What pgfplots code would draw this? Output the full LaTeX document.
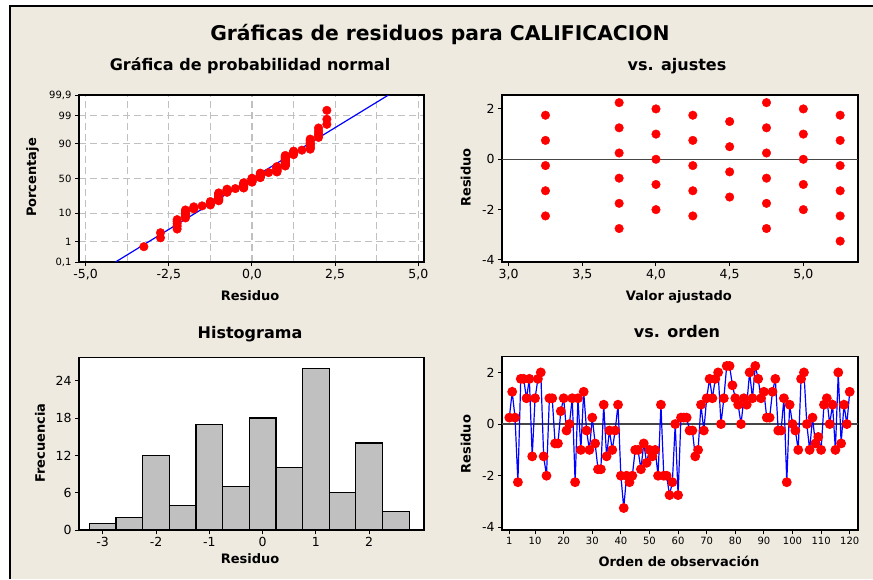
\documentclass[border=0pt]{standalone}
\usepackage{pgfplots}
\pgfplotsset{compat=1.18}
\usepackage{pgfplotstable}
\usepackage{fontspec}
\setmainfont{DejaVu Sans}
\newcommand{\fs}[1]{\fontsize{#1}{#1}\selectfont}
\definecolor{beige}{RGB}{238,234,224}
\definecolor{gridc}{RGB}{192,192,192}
\definecolor{barc}{RGB}{192,192,192}
\definecolor{refc}{RGB}{70,70,70}

\pgfplotstableread{
x z
-3.25 -2.523
-2.75 -2.194
-2.75 -2.006
-2.25 -1.870
-2.25 -1.762
-2.25 -1.671
-2.25 -1.592
-2.25 -1.522
-2.0 -1.459
-2.0 -1.401
-2.0 -1.348
-2.0 -1.298
-2.0 -1.251
-2.0 -1.207
-2.0 -1.165
-1.75 -1.125
-1.75 -1.086
-1.75 -1.049
-1.5 -1.014
-1.25 -0.980
-1.25 -0.947
-1.25 -0.915
-1.25 -0.883
-1.25 -0.853
-1.0 -0.823
-1.0 -0.795
-1.0 -0.766
-1.0 -0.739
-1.0 -0.712
-1.0 -0.685
-1.0 -0.659
-1.0 -0.633
-1.0 -0.608
-1.0 -0.583
-1.0 -0.559
-1.0 -0.534
-0.75 -0.511
-0.75 -0.487
-0.75 -0.464
-0.75 -0.441
-0.75 -0.418
-0.75 -0.395
-0.5 -0.373
-0.25 -0.351
-0.25 -0.329
-0.25 -0.307
-0.25 -0.285
-0.25 -0.263
-0.25 -0.242
-0.25 -0.220
-0.25 -0.199
-0.25 -0.178
-0.25 -0.157
0.0 -0.136
0.0 -0.115
0.0 -0.094
0.0 -0.073
0.0 -0.052
0.0 -0.031
0.0 -0.010
0.0 0.010
0.25 0.031
0.25 0.052
0.25 0.073
0.25 0.094
0.25 0.115
0.25 0.136
0.25 0.157
0.25 0.178
0.25 0.199
0.5 0.220
0.75 0.242
0.75 0.263
0.75 0.285
0.75 0.307
0.75 0.329
0.75 0.351
0.75 0.373
0.75 0.395
0.75 0.418
0.75 0.441
1.0 0.464
1.0 0.487
1.0 0.511
1.0 0.534
1.0 0.559
1.0 0.583
1.0 0.608
1.0 0.633
1.0 0.659
1.0 0.685
1.0 0.712
1.0 0.739
1.0 0.766
1.0 0.795
1.0 0.823
1.0 0.853
1.25 0.883
1.25 0.915
1.25 0.947
1.25 0.980
1.25 1.014
1.5 1.049
1.75 1.086
1.75 1.125
1.75 1.165
1.75 1.207
1.75 1.251
1.75 1.298
1.75 1.348
1.75 1.401
1.75 1.459
2.0 1.522
2.0 1.592
2.0 1.671
2.0 1.762
2.0 1.870
2.25 2.006
2.25 2.194
2.25 2.523
}\probdata

\pgfplotstableread{
f r
3.25 1.75
3.25 0.75
3.25 -0.25
3.25 -1.25
3.25 -2.25
3.75 2.25
3.75 1.25
3.75 0.25
3.75 -0.75
3.75 -1.75
3.75 -2.75
4.0 2.0
4.0 1.0
4.0 0.0
4.0 -1.0
4.0 -2.0
4.25 1.75
4.25 0.75
4.25 -0.25
4.25 -1.25
4.25 -2.25
4.5 1.5
4.5 0.5
4.5 -0.5
4.5 -1.5
4.75 2.25
4.75 1.25
4.75 0.25
4.75 -0.75
4.75 -1.75
4.75 -2.75
5.0 2.0
5.0 1.0
5.0 0.0
5.0 -1.0
5.0 -2.0
5.25 1.75
5.25 0.75
5.25 -0.25
5.25 -1.25
5.25 -2.25
5.25 -3.25
}\fitdata

\pgfplotstableread{
i r
1 0.25
2 1.25
3 0.25
4 -2.25
5 1.75
6 1.75
7 1.0
8 1.75
9 -1.25
10 1.0
11 1.75
12 2.0
13 -1.25
14 -2.0
15 1.0
16 1.0
17 -0.75
18 -0.75
19 0.5
20 1.0
21 -0.25
22 0.0
23 1.0
24 -2.25
25 1.0
26 -1.0
27 1.25
28 -0.25
29 -1.0
30 0.25
31 -0.75
32 -1.75
33 -1.75
34 0.75
35 -1.25
36 -0.25
37 -1.0
38 -0.25
39 0.75
40 -2.0
41 -3.25
42 -2.0
43 -2.25
44 -2.0
45 -1.0
46 -1.0
47 -1.75
48 -0.75
49 -1.5
50 -1.0
51 -1.25
52 -1.0
53 -2.0
54 0.75
55 -2.0
56 -2.0
57 -2.75
58 -2.25
59 0.0
60 -2.75
61 0.25
62 0.25
63 0.25
64 -0.25
65 -0.25
66 -1.25
67 -1.0
68 0.75
69 -0.25
70 1.0
71 1.75
72 1.0
73 1.75
74 2.0
75 0.0
76 1.0
77 2.25
78 2.25
79 1.5
80 1.0
81 0.75
82 0.0
83 1.0
84 0.75
85 2.0
86 1.0
87 2.25
88 1.75
89 1.0
90 1.25
91 0.25
92 0.25
93 1.25
94 1.75
95 -0.25
96 -0.25
97 1.0
98 -2.25
99 0.75
100 0.0
101 -0.25
102 -1.0
103 1.75
104 2.0
105 0.0
106 -1.0
107 0.25
108 -0.75
109 -0.5
110 -1.0
111 0.75
112 1.0
113 0.0
114 0.75
115 -1.0
116 2.0
117 -0.75
118 0.75
119 0.0
120 1.25
}\orddata

\pgfplotsset{
  minitab/.style={
    scale only axis,
    anchor=south west,
    axis background/.style={fill=white},
    axis line style={line width=1.2pt, black},
    tick align=outside,
    tick pos=left,
    major tick length=4pt,
    every tick/.style={black, line width=1pt},
    tick label style={font=\fs{12.5}},
    label style={font=\bfseries\fs{13}},
    title style={font=\bfseries\fs{16}, anchor=base},
    /pgf/number format/assume math mode=true,
  },
  redpts/.style={only marks, mark=*, mark size=4.3pt, mark options={draw=red, fill=red}},
}

\begin{document}
\begin{tikzpicture}
\fill[white] (0pt,0pt) rectangle (873pt,-579pt);
\fill[beige] (10pt,-6pt) rectangle (873pt,-579pt);
\draw[black, line width=1.3pt] (10pt,-579pt) -- (10pt,-6pt) -- (873pt,-6pt);

\node[anchor=base, font=\bfseries\fs{20.3}] at (440pt,-40pt) {Gráficas de residuos para CALIFICACION};

% Normal probability plot
\begin{axis}[minitab,
  at={(79pt,-262pt)}, width=345pt, height=167pt,
  xmin=-5.2, xmax=5.17, ymin=-3.0902, ymax=3.0902,
  xtick={-5,-2.5,0,2.5,5}, xticklabels={{-5,0},{-2,5},{0,0},{2,5},{5,0}},
  minor xtick={-3.75,-1.25,1.25,3.75}, minor tick length=0pt,
  ytick={-3.0902,-2.3263,-1.2816,0,1.2816,2.3263,3.0902},
  yticklabels={{0,1},1,10,50,90,99,{99,9}},
  y tick label style={font=\fs{10}},
  grid=both,
  major grid style={gridc, line width=1.2pt, dash pattern=on 7pt off 4pt},
  minor grid style={gridc, line width=1.2pt, dash pattern=on 7pt off 4pt},
  title={Gráfica de probabilidad normal},
  title style={at={(axis description cs:0.4957,1.1138)}},
  xlabel={Residuo},
  xlabel style={at={(axis description cs:0.4957,-0.2305)}, anchor=base},
  ylabel={Porcentaje},
  ylabel style={at={(axis description cs:-0.1246,0.506)}, anchor=base},
]
\addplot[blue, line width=1.2pt] coordinates {(-4.1026,-3.0902) (4.1026,3.0902)};
\addplot[redpts] table[x=x, y=z] {\probdata};
\end{axis}

% vs fits
\begin{axis}[minitab,
  at={(502pt,-262pt)}, width=356pt, height=167pt,
  xmin=2.955, xmax=5.371, ymin=-4.08, ymax=2.553,
  xtick={3,3.5,4,4.5,5}, xticklabels={{3,0},{3,5},{4,0},{4,5},{5,0}},
  ytick={-4,-2,0,2}, yticklabels={-4,-2,0,2},
  title={vs. ajustes},
  title style={at={(axis description cs:0.4916,1.1138)}},
  xlabel={Valor ajustado},
  xlabel style={at={(axis description cs:0.497,-0.2305)}, anchor=base},
  ylabel={Residuo},
  ylabel style={at={(axis description cs:-0.0879,0.506)}, anchor=base},
]
\addplot[refc, line width=1.2pt] coordinates {(2.955,0) (5.371,0)};
\addplot[redpts] table[x=f, y=r] {\fitdata};
\end{axis}

% Histogram
\begin{axis}[minitab,
  at={(79pt,-530pt)}, width=345pt, height=172.3pt,
  xmin=-3.445, xmax=3.028, ymin=0, ymax=27.7,
  xtick={-3,-2,-1,0,1,2}, xticklabels={-3,-2,-1,0,1,2},
  ytick={0,6,12,18,24}, yticklabels={0,6,12,18,24},
  title={Histograma},
  title style={at={(axis description cs:0.4957,1.0795)}},
  xlabel={Residuo},
  xlabel style={at={(axis description cs:0.4957,-0.1915)}, anchor=base},
  ylabel={Frecuencia},
  ylabel style={at={(axis description cs:-0.0986,0.503)}, anchor=base},
]
\addplot[ybar, bar width=0.5, fill=barc, draw=black, line width=1.2pt] coordinates {
(-3.0,1) (-2.5,2) (-2.0,12) (-1.5,4) (-1.0,17) (-0.5,7) (0.0,18) (0.5,10) (1.0,26) (1.5,6) (2.0,14) (2.5,3)};
\end{axis}

% vs order
\begin{axis}[minitab,
  at={(502pt,-530pt)}, width=356pt, height=173.3pt,
  xmin=-1.56, xmax=122.9, ymin=-4.101, ymax=2.608,
  xtick={1,10,20,30,40,50,60,70,80,90,100,110,120},
  xticklabels={1,10,20,30,40,50,60,70,80,90,100,110,120},
  x tick label style={font=\fs{10}},
  ytick={-4,-2,0,2}, yticklabels={-4,-2,0,2},
  title={vs. orden},
  title style={at={(axis description cs:0.4916,1.0733)}},
  xlabel={Orden de observación},
  xlabel style={at={(axis description cs:0.497,-0.2077)}, anchor=base},
  ylabel={Residuo},
  ylabel style={at={(axis description cs:-0.0879,0.495)}, anchor=base},
]
\addplot[refc, line width=1.2pt] coordinates {(-1.56,0) (122.9,0)};
\addplot[blue, line width=1.2pt, mark=*, mark size=4.3pt, mark options={draw=red, fill=red, solid}] table[x=i, y=r] {\orddata};
\end{axis}

\pgfresetboundingbox
\useasboundingbox (0pt,0pt) rectangle (873pt,-579pt);
\end{tikzpicture}
\end{document}
